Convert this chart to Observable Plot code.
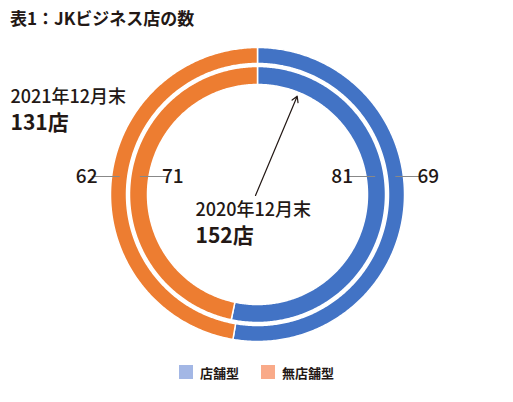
<!DOCTYPE html>
<html>
<head>
<meta charset="utf-8">
<script src="https://cdn.jsdelivr.net/npm/d3@7"></script>
<script src="https://cdn.jsdelivr.net/npm/@observablehq/plot@0.6"></script>
<style>
  body { margin: 0; background: #fff; width: 513px; font-family: "Noto Sans CJK JP", sans-serif; color: #231815; }
  #title { height: 38px; line-height: 35px; padding-left: 10px; font-size: 17px; font-weight: 700; }
  #legend { height: 36px; display: flex; justify-content: center; align-items: center; font-size: 13px; font-weight: 700; }
  #legend .item { display: flex; align-items: center; margin: 0 11px; }
  #legend .sw { width: 14px; height: 14px; margin-right: 7px; }
</style>
</head>
<body>
<div id="title">表1：JKビジネス店の数</div>
<div id="chart"></div>
<div id="legend"></div>
<script>
const categories = ["店舗型", "無店舗型"];
const years = ["2020年12月末", "2021年12月末"];
const stores2020 = [81, 71];
const stores2021 = [69, 62];
const colors = ["#4273c5", "#ed7d31"];
const legendColors = ["#a3b7e5", "#f9aa89"];

// inner ring = 2020, outer ring = 2021 (radii in px)
const ringR = [[110, 128], [131, 147]];
const series = [stores2020, stores2021];

const pie = d3.pie().sort(null);
let slices = [];
let labels = [];
series.forEach((vals, i) => {
  const [r0, r1] = ringR[i];
  pie(vals).forEach((a, j) => {
    const n = Math.ceil((a.endAngle - a.startAngle) / 0.01);
    const ts = d3.range(n + 1).map(k => a.startAngle + (a.endAngle - a.startAngle) * k / n);
    const id = i + "-" + j;
    ts.forEach(t => slices.push({id, type: categories[j], x: r1 * Math.sin(t), y: r1 * Math.cos(t)}));
    ts.slice().reverse().forEach(t => slices.push({id, type: categories[j], x: r0 * Math.sin(t), y: r0 * Math.cos(t)}));

    // leader line + value label, right side for 店舗型, left for 無店舗型
    const side = j == 0 ? 1 : -1;
    const out = i == 1 ? 1 : -1;
    const rm = (r0 + r1) / 2;
    const xa = side * Math.sqrt(rm * rm - 18 * 18);
    const xb = xa + side * out * 28;
    labels.push({value: a.data, x1: xa, x2: xb, xt: xb + side * out * 5,
                 anchor: side * out > 0 ? "start" : "end"});
  });
});

const totals = series.map(d => d3.sum(d) + "店");
const tip = 106;
const tipAngle = 22 * Math.PI / 180;

let chart = Plot.plot({
  width: 513,
  height: 316,
  marginTop: 0, marginBottom: 0, marginLeft: 0, marginRight: 0,
  x: {domain: [-257, 256], axis: null},
  y: {domain: [-160, 156], axis: null},
  color: {domain: categories, range: colors},
  style: {fontFamily: "Noto Sans CJK JP", color: "#231815"},
  marks: [
    Plot.line(slices, {x: "x", y: "y", z: "id", fill: "type", stroke: "white", strokeWidth: 1.5, curve: "linear-closed"}),
    Plot.link(labels, {x1: "x1", x2: "x2", y1: 18, y2: 18, stroke: "#888", strokeWidth: 1}),
    Plot.text(labels, {x: "xt", y: 18, text: "value", textAnchor: "anchor", fontSize: 19, fontWeight: 500, fill: "#231815"}),
    Plot.text([years[1]], {x: -247, y: 97, text: d => d, textAnchor: "start", fontSize: 18, fontWeight: 500, fill: "#231815"}),
    Plot.text([totals[1]], {x: -247, y: 71, text: d => d, textAnchor: "start", fontSize: 21, fontWeight: 700, fill: "#231815"}),
    Plot.text([years[0]], {x: -62, y: -16, text: d => d, textAnchor: "start", fontSize: 18, fontWeight: 500, fill: "#231815"}),
    Plot.text([totals[0]], {x: -62, y: -42, text: d => d, textAnchor: "start", fontSize: 21, fontWeight: 700, fill: "#231815"}),
    Plot.arrow([0], {x1: -2, y1: -1, x2: tip * Math.sin(tipAngle), y2: tip * Math.cos(tipAngle),
                     stroke: "#231815", strokeWidth: 1.2, headLength: 8})
  ]
});
d3.select("#chart").append(() => chart);

const legend = d3.select("#legend").selectAll("div").data(categories).join("div").attr("class", "item");
legend.append("div").attr("class", "sw").style("background", (d, i) => legendColors[i]);
legend.append("span").text(d => d);
</script>
</body>
</html>
